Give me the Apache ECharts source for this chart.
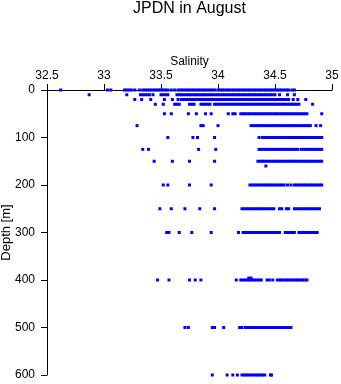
<!DOCTYPE html>
<html>
<head>
<meta charset="utf-8">
<script src="https://cdn.jsdelivr.net/npm/echarts@6/dist/echarts.min.js"></script>
<style>
html,body{margin:0;padding:0;background:#fff;}
#chart{width:341px;height:384px;}
</style>
</head>
<body>
<div id="chart"></div>
<script>
// Depth levels (m) and salinity readings at each level
const depthLevels = [0, 10, 20, 30, 50, 75, 100, 125, 150, 160, 200, 250, 300, 396, 400, 500, 600];

const sal_0 = [32.62, 33.03, 33.06, 33.18, 33.20, 33.22, 33.24, 33.27, 33.31, 33.34, 33.36, 33.38, 33.40, 33.42, 33.44, 33.46, 33.48, 33.50, 33.52, 33.54, 33.56, 33.59, 33.62, 33.65, 33.67, 33.69, 33.71, 33.73, 33.75, 33.77, 33.79, 33.81, 33.83, 33.85, 33.87, 33.89, 33.91, 33.93, 33.95, 33.97, 34.00, 34.02, 34.04, 34.06, 34.08, 34.10, 34.12, 34.14, 34.16, 34.18, 34.20, 34.22, 34.24, 34.26, 34.28, 34.30, 34.32, 34.34, 34.36, 34.38, 34.40, 34.42, 34.44, 34.46, 34.48, 34.50, 34.52, 34.54, 34.56, 34.58, 34.60, 34.62, 34.65, 34.67];
const sal_10 = [32.87, 33.20, 33.32, 33.34, 33.36, 33.38, 33.40, 33.43, 33.50, 33.52, 33.54, 33.56, 33.64, 33.66, 33.68, 33.70, 33.72, 33.74, 33.76, 33.78, 33.80, 33.82, 33.84, 33.86, 33.88, 33.90, 33.92, 33.94, 33.96, 33.98, 34.00, 34.02, 34.04, 34.06, 34.08, 34.10, 34.12, 34.14, 34.16, 34.18, 34.20, 34.22, 34.24, 34.26, 34.28, 34.30, 34.32, 34.34, 34.36, 34.38, 34.40, 34.42, 34.44, 34.46, 34.48, 34.50, 34.54, 34.61, 34.67];
const sal_20 = [33.27, 33.33, 33.41, 33.53, 33.60, 33.65, 33.68, 33.70, 33.72, 33.74, 33.76, 33.78, 33.80, 33.82, 33.84, 33.86, 33.88, 33.90, 33.92, 33.94, 33.96, 33.98, 34.00, 34.02, 34.04, 34.06, 34.08, 34.10, 34.12, 34.14, 34.16, 34.18, 34.20, 34.22, 34.24, 34.26, 34.28, 34.30, 34.32, 34.34, 34.36, 34.38, 34.40, 34.42, 34.44, 34.46, 34.48, 34.50, 34.52, 34.54, 34.56, 34.58, 34.60, 34.62, 34.66, 34.70, 34.77];
const sal_30 = [33.45, 33.52, 33.62, 33.64, 33.66, 33.75, 33.77, 33.79, 33.85, 33.87, 33.89, 33.91, 33.93, 33.97, 33.99, 34.01, 34.03, 34.05, 34.07, 34.09, 34.11, 34.13, 34.15, 34.17, 34.19, 34.21, 34.23, 34.25, 34.27, 34.29, 34.31, 34.33, 34.35, 34.37, 34.39, 34.41, 34.43, 34.45, 34.47, 34.49, 34.51, 34.53, 34.55, 34.57, 34.59, 34.61, 34.63, 34.65, 34.67, 34.69, 34.71, 34.83];
const sal_50 = [33.53, 33.59, 33.74, 33.81, 33.89, 33.94, 34.09, 34.13, 34.15, 34.20, 34.22, 34.24, 34.26, 34.28, 34.30, 34.32, 34.34, 34.36, 34.38, 34.40, 34.42, 34.44, 34.46, 34.48, 34.50, 34.52, 34.54, 34.56, 34.58, 34.60, 34.62, 34.64, 34.66, 34.68, 34.70, 34.72, 34.74, 34.76, 34.78, 34.91];
const sal_75 = [33.29, 33.85, 33.87, 34.00, 34.29, 34.31, 34.33, 34.35, 34.37, 34.39, 34.41, 34.43, 34.45, 34.47, 34.49, 34.51, 34.53, 34.55, 34.57, 34.59, 34.61, 34.63, 34.65, 34.67, 34.69, 34.71, 34.73, 34.75, 34.77, 34.79, 34.81, 34.86, 34.90];
const sal_100 = [33.56, 33.78, 33.82, 33.97, 34.36, 34.39, 34.41, 34.43, 34.45, 34.47, 34.49, 34.51, 34.53, 34.55, 34.57, 34.59, 34.61, 34.63, 34.65, 34.67, 34.69, 34.71, 34.73, 34.75, 34.77, 34.79, 34.81, 34.83, 34.85, 34.87, 34.89, 34.91];
const sal_125 = [33.34, 33.39, 33.83, 33.98, 34.36, 34.38, 34.40, 34.42, 34.44, 34.46, 34.48, 34.50, 34.52, 34.54, 34.56, 34.58, 34.60, 34.62, 34.64, 34.66, 34.68, 34.70, 34.73, 34.75, 34.77, 34.79, 34.81, 34.83, 34.85, 34.87, 34.89, 34.91];
const sal_150 = [33.44, 33.60, 33.75, 33.97, 34.35, 34.37, 34.39, 34.41, 34.43, 34.45, 34.47, 34.49, 34.51, 34.53, 34.55, 34.57, 34.59, 34.61, 34.63, 34.65, 34.67, 34.69, 34.71, 34.73, 34.75, 34.77, 34.79, 34.81, 34.83, 34.85, 34.87, 34.89, 34.91];
const sal_160 = [34.42];
const sal_200 = [33.52, 33.56, 33.75, 33.94, 34.28, 34.30, 34.32, 34.34, 34.36, 34.38, 34.40, 34.42, 34.44, 34.46, 34.48, 34.50, 34.52, 34.54, 34.56, 34.58, 34.61, 34.64, 34.67, 34.69, 34.71, 34.73, 34.75, 34.77, 34.79, 34.81, 34.83, 34.85, 34.87, 34.89, 34.91];
const sal_250 = [33.49, 33.59, 33.71, 33.84, 33.97, 34.21, 34.23, 34.25, 34.27, 34.29, 34.31, 34.33, 34.35, 34.37, 34.39, 34.41, 34.43, 34.45, 34.47, 34.49, 34.54, 34.56, 34.60, 34.62, 34.67, 34.69, 34.71, 34.73, 34.75, 34.77, 34.79, 34.81, 34.83, 34.85, 34.87, 34.89];
const sal_300 = [33.55, 33.57, 33.66, 33.77, 33.94, 34.18, 34.22, 34.24, 34.26, 34.28, 34.30, 34.32, 34.34, 34.36, 34.38, 34.40, 34.42, 34.44, 34.46, 34.48, 34.50, 34.52, 34.54, 34.59, 34.61, 34.63, 34.65, 34.67, 34.71, 34.73, 34.75, 34.77, 34.79, 34.81, 34.83, 34.85, 34.87];
const sal_396 = [34.27, 34.29];
const sal_400 = [33.47, 33.57, 33.75, 33.80, 33.85, 34.16, 34.20, 34.22, 34.24, 34.26, 34.28, 34.30, 34.32, 34.34, 34.36, 34.38, 34.43, 34.45, 34.48, 34.52, 34.54, 34.56, 34.58, 34.60, 34.62, 34.64, 34.66, 34.68, 34.70, 34.72, 34.74, 34.76, 34.78];
const sal_500 = [33.71, 33.74, 33.95, 33.97, 34.05, 34.19, 34.21, 34.24, 34.26, 34.28, 34.30, 34.32, 34.34, 34.36, 34.38, 34.40, 34.42, 34.44, 34.46, 34.48, 34.50, 34.52, 34.54, 34.56, 34.58, 34.60, 34.62, 34.64];
const sal_600 = [33.95, 34.08, 34.13, 34.17, 34.21, 34.23, 34.25, 34.27, 34.29, 34.31, 34.33, 34.35, 34.37, 34.39, 34.41, 34.46, 34.47];

const salinityByDepth = [sal_0, sal_10, sal_20, sal_30, sal_50, sal_75, sal_100, sal_125, sal_150, sal_160, sal_200, sal_250, sal_300, sal_396, sal_400, sal_500, sal_600];

const salinityTicks = [32.5, 33, 33.5, 34, 34.5, 35];
const depthTicks = [0, 100, 200, 300, 400, 500, 600];

const points = [];
depthLevels.forEach((d, i) => {
  salinityByDepth[i].forEach(s => points.push([s, d]));
});

const FONT = '"Liberation Sans", Arial, Helvetica, sans-serif';
const chart = echarts.init(document.getElementById('chart'), null, {renderer: 'canvas'});
chart.setOption({
  animation: false,
  backgroundColor: '#ffffff',
  textStyle: {fontFamily: FONT, color: '#000'},
  title: {
    text: 'JPDN in August',
    left: 133,
    top: 1,
    padding: 0,
    textStyle: {fontFamily: FONT, fontSize: 16, fontWeight: 'normal', color: '#000'}
  },
  grid: {left: 47, right: 9, top: 90, bottom: 9, containLabel: false, outerBoundsMode: 'none'},
  xAxis: {
    type: 'value',
    position: 'top',
    min: salinityTicks[0],
    max: salinityTicks[salinityTicks.length - 1],
    interval: 0.5,
    name: 'Salinity',
    nameLocation: 'middle',
    nameGap: 22,
    nameMoveOverlap: false,
    nameTextStyle: {fontFamily: FONT, fontSize: 12, color: '#000'},
    axisLine: {show: true, onZero: false, lineStyle: {color: '#000', width: 1}},
    axisTick: {show: true, length: 6, inside: false, lineStyle: {color: '#000'}},
    axisLabel: {
      margin: 8, fontFamily: FONT, fontSize: 12, color: '#000',
      formatter: v => String(+v.toFixed(1))
    },
    splitLine: {show: false}
  },
  yAxis: {
    type: 'value',
    inverse: true,
    min: depthTicks[0],
    max: depthTicks[depthTicks.length - 1],
    interval: 100,
    name: 'Depth [m]',
    nameLocation: 'middle',
    nameRotate: 90,
    nameGap: 34,
    nameMoveOverlap: false,
    nameTextStyle: {fontFamily: FONT, fontSize: 13, color: '#000'},
    axisLine: {show: true, onZero: false, lineStyle: {color: '#000', width: 1}},
    axisTick: {show: true, length: 6, inside: false, lineStyle: {color: '#000'}},
    axisLabel: {margin: 12, fontFamily: FONT, fontSize: 12, color: '#000'},
    splitLine: {show: false}
  },
  series: [{
    type: 'scatter',
    data: points,
    symbol: 'rect',
    symbolSize: [3, 3],
    clip: false,
    itemStyle: {color: '#0000ff', opacity: 1},
    emphasis: {disabled: true},
    silent: true,
    z: 5
  }]
});
</script>
</body>
</html>
